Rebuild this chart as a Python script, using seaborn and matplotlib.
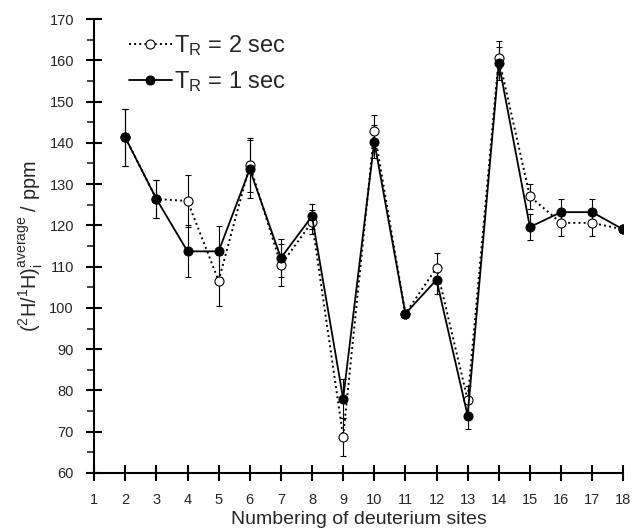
import numpy as np
import pandas as pd
import seaborn as sns
import matplotlib.pyplot as plt
from matplotlib.ticker import MultipleLocator

sns.set_style("ticks")
plt.rcParams['font.family'] = ['Liberation Sans', 'DejaVu Sans']
plt.rcParams['mathtext.fontset'] = 'custom'
plt.rcParams['mathtext.rm'] = 'Liberation Sans'
plt.rcParams['mathtext.it'] = 'Liberation Sans'

sites = list(range(2, 19))
tr1_vals = [141.3, 126.4, 113.7, 113.7, 133.6, 112.1, 122.2, 78.0, 140.3,
            98.6, 106.8, 73.9, 159.3, 119.6, 123.2, 123.2, 119.0]
tr1_err = [7.0, 4.5, 6.3, 6.2, 7.0, 4.5, 3.0, 4.7, 4.0,
           0.0, 3.5, 3.3, 4.0, 3.2, 3.1, 3.1, 0.0]
tr2_vals = [141.3, 126.4, 125.9, 106.6, 134.6, 110.4, 120.8, 68.8, 142.8,
            98.6, 109.7, 77.7, 160.6, 127.0, 120.6, 120.6, 119.0]
tr2_err = [7.0, 4.5, 6.4, 6.2, 6.5, 5.0, 3.0, 4.6, 4.0,
           0.0, 3.6, 3.4, 4.0, 3.1, 3.1, 3.1, 0.0]

df = pd.DataFrame({'site': sites, 'tr1': tr1_vals, 'tr1_err': tr1_err,
                   'tr2': tr2_vals, 'tr2_err': tr2_err})

fig = plt.figure(figsize=(6.36, 5.29), dpi=100)
ax = fig.add_axes([0.148, 0.106, 0.832, 0.858])

# error bars first so the markers sit on top
for col in ['tr2', 'tr1']:
    e = df[df[col + '_err'] > 0]
    ax.errorbar(e['site'], e[col], yerr=e[col + '_err'], fmt='none',
                ecolor='black', elinewidth=0.8, capsize=2.5, capthick=0.8, zorder=1)

sns.lineplot(data=df, x='site', y='tr2', ax=ax, color='black', linestyle=':',
             linewidth=1.4, marker='o', markersize=6.5, markerfacecolor='white',
             markeredgecolor='black', markeredgewidth=0.8, zorder=2,
             label=r'$\mathregular{T_R}$ = 2 sec')
sns.lineplot(data=df, x='site', y='tr1', ax=ax, color='black', linestyle='-',
             linewidth=1.3, marker='o', markersize=6.5, markerfacecolor='black',
             markeredgecolor='black', zorder=3,
             label=r'$\mathregular{T_R}$ = 1 sec')

ax.set_xlim(1, 18)
ax.set_ylim(60, 170)
ax.set_xticks(range(1, 19))
ax.yaxis.set_major_locator(MultipleLocator(10))
ax.yaxis.set_minor_locator(MultipleLocator(5))
ax.tick_params(axis='both', which='major', direction='inout', length=11,
               width=1.5, pad=9, labelsize=10.5, color='black')
ax.tick_params(axis='y', which='minor', direction='out', length=5, width=1.2)
for s in ['left', 'bottom']:
    ax.spines[s].set_linewidth(1.5)
    ax.spines[s].set_color('black')
sns.despine(ax=ax)

ax.set_xlabel('Numbering of deuterium sites', fontsize=14, labelpad=3)
ax.set_ylabel(r'$\mathregular{(^2H/^1H)_i^{average}}$ / ppm', fontsize=14.3, labelpad=3)

ax.legend(loc='upper left', bbox_to_anchor=(0.026, 1.015), frameon=False,
          fontsize=17, handlelength=1.8, handletextpad=0.1, labelspacing=0.45)

fig.savefig('out.png', dpi=100)
